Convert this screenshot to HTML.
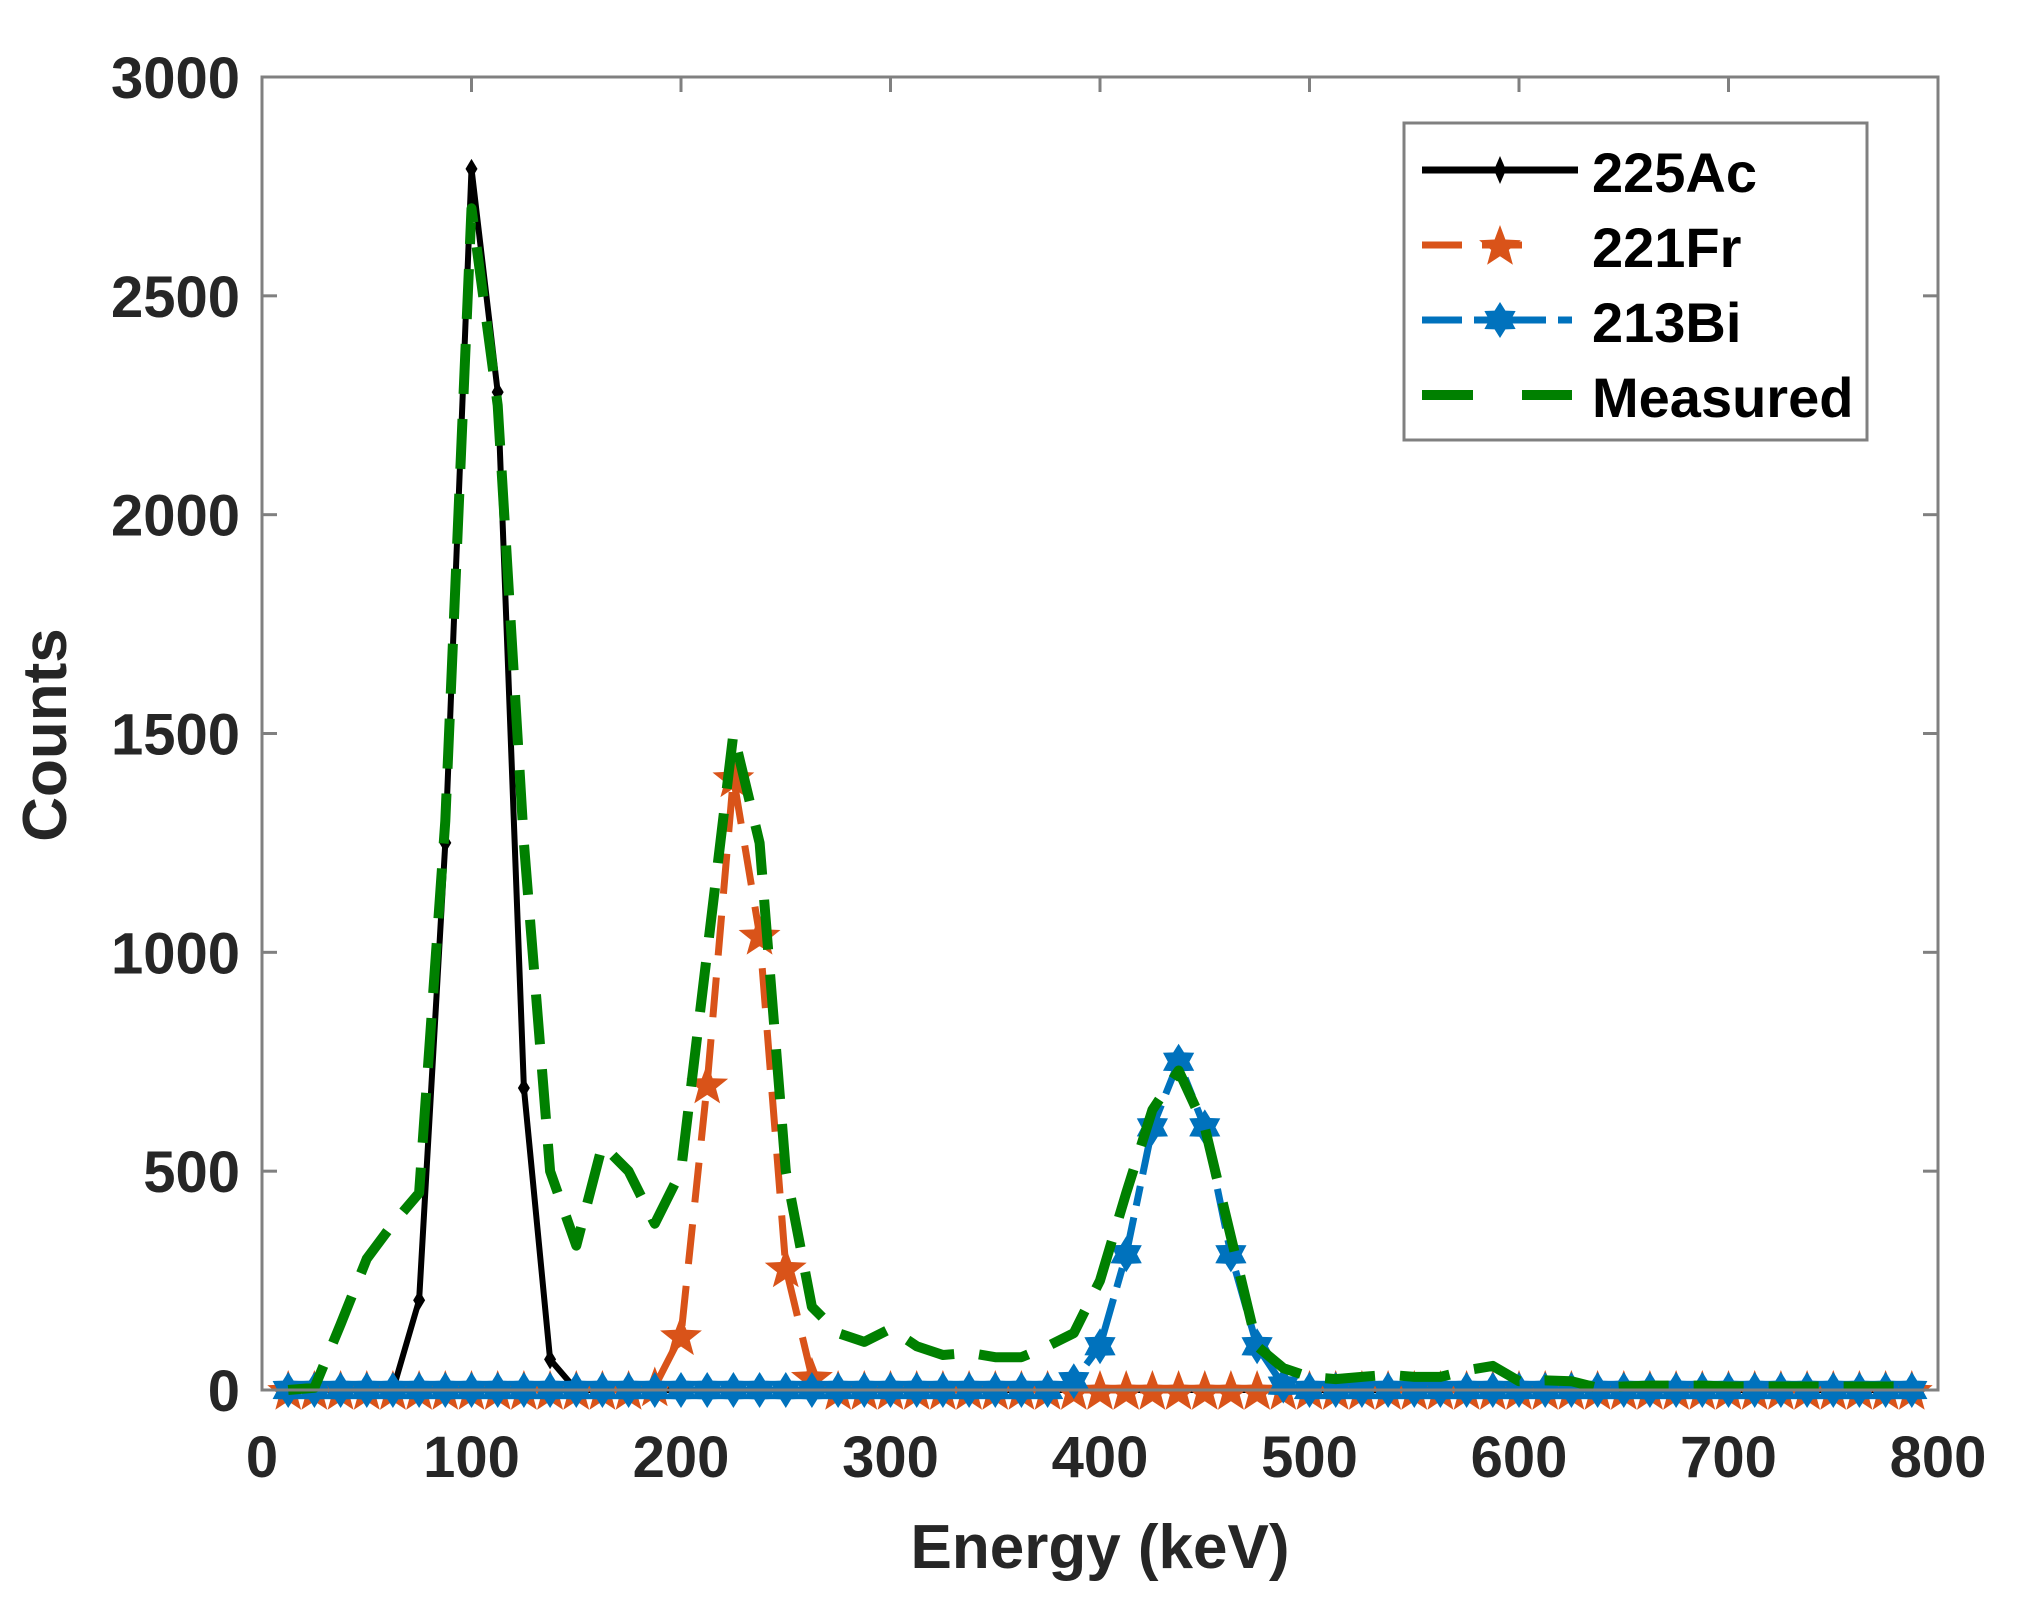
<!DOCTYPE html>
<html><head><meta charset="utf-8">
<style>
html,body{margin:0;padding:0;background:#fff;}
svg{display:block;}
text{font-family:"Liberation Sans",Arial,sans-serif;font-weight:bold;fill:#262626;}
</style></head>
<body>
<svg id="s" width="2017" height="1613" viewBox="0 0 2017 1613" xmlns="http://www.w3.org/2000/svg">
<rect width="2017" height="1613" fill="#fff"/>
<g id="ticks"></g>
<g id="plot"></g>
<rect x="262" y="77" width="1676" height="1313" fill="none" stroke="#808080" stroke-width="3"/>
<g id="labels" font-size="58"></g>
<text x="1100" y="1568" font-size="62" text-anchor="middle">Energy (keV)</text>
<text transform="translate(66,735) rotate(-90)" font-size="62" text-anchor="middle">Counts</text>
<g id="legend">
<rect x="1404" y="123" width="463" height="317" fill="#fff" stroke="#808080" stroke-width="3"/>
<line x1="1422" y1="170" x2="1578" y2="170" stroke="#000" stroke-width="7"/>
<path d="M1500 156 L1506 170 L1500 184 L1494 170Z" fill="#000"/>
<line x1="1422" y1="245" x2="1542" y2="245" stroke="#d95319" stroke-width="7" stroke-dasharray="40,20"/>
<path id="lstar" fill="#d95319"/>
<line x1="1422" y1="320" x2="1572" y2="320" stroke="#0072bd" stroke-width="7" stroke-dasharray="40,12,20,12"/>
<path id="lhex" fill="#0072bd"/>
<line x1="1422" y1="395" x2="1572" y2="395" stroke="#008000" stroke-width="10" stroke-dasharray="51,49"/>
<text x="1592" y="192" font-size="56" style="fill:#000">225Ac</text>
<text x="1592" y="267" font-size="56" style="fill:#000">221Fr</text>
<text x="1592" y="342" font-size="56" style="fill:#000">213Bi</text>
<text x="1592" y="417" font-size="56" style="fill:#000">Measured</text>
</g>
</svg>
<script>
var NS="http://www.w3.org/2000/svg";
function X(e){return 262+e*1676/800;}
function Y(c){return 1390-c*1313/3000;}
function el(p,t,a){var e=document.createElementNS(NS,t);for(var k in a)e.setAttribute(k,a[k]);p.appendChild(e);return e;}
var tk=document.getElementById('ticks'),lb=document.getElementById('labels'),pl=document.getElementById('plot');
for(var i=0;i<=8;i++){var x=X(i*100);
 el(tk,'line',{x1:x,y1:1390,x2:x,y2:1375,stroke:'#808080','stroke-width':3});
 el(tk,'line',{x1:x,y1:77,x2:x,y2:92,stroke:'#808080','stroke-width':3});
 var t=el(lb,'text',{x:x,y:1477,'text-anchor':'middle'});t.textContent=String(i*100);}
for(var j=0;j<=6;j++){var y=Y(j*500);
 el(tk,'line',{x1:262,y1:y,x2:277,y2:y,stroke:'#808080','stroke-width':3});
 el(tk,'line',{x1:1938,y1:y,x2:1923,y2:y,stroke:'#808080','stroke-width':3});
 var t=el(lb,'text',{x:240,y:y+21,'text-anchor':'end'});t.textContent=String(j*500);}
var N=63,E=[];for(var k=1;k<=N;k++)E.push(12.5*k);
function arr(m){return E.map(function(e){return m[e]||0;});}
var ac=arr({62.5:0,75:205,87.5:1250,100:2790,112.5:2280,125:690,137.5:70});
var fr=arr({187.5:8,200:125,212.5:700,225:1400,237.5:1040,250:280,262.5:30});
var bi=arr({387.5:20,400:100,412.5:310,425:600,437.5:750,450:600,462.5:310,475:100,487.5:10});
var ms=arr({12.5:0,25:5,37.5:150,50:300,62.5:380,75:450,87.5:1300,100:2700,112.5:2250,125:1250,137.5:500,150:330,162.5:560,175:500,187.5:380,200:500,212.5:1000,225:1500,237.5:1250,250:500,262.5:190,275:130,287.5:110,300:140,312.5:100,325:80,337.5:85,350:75,362.5:75,375:100,387.5:130,400:250,412.5:450,425:640,437.5:730,450:600,462.5:350,475:100,487.5:50,500:30,512.5:25,525:30,537.5:35,550:30,562.5:30,575:45,587.5:55,600:20,612.5:22,625:20,637.5:5,650:8,662.5:10,675:10,687.5:10,700:8,712.5:8,725:8,737.5:8,750:8,762.5:8,775:8,787.5:8});
function pts(a){return E.map(function(e,i){return X(e).toFixed(1)+','+Y(a[i]).toFixed(1);}).join(' ');}
function star(cx,cy,r,n,inner){var s='';for(var i=0;i<2*n;i++){var rr=i%2?r*inner:r;var a=-Math.PI/2+i*Math.PI/n;s+=(i?'L':'M')+(cx+rr*Math.cos(a)).toFixed(1)+' '+(cy+rr*Math.sin(a)).toFixed(1);}return s+'Z';}
document.getElementById('lstar').setAttribute('d',star(1500,247,22,5,0.42));
document.getElementById('lhex').setAttribute('d',star(1500,320,18,6,0.6));
el(pl,'polyline',{points:pts(ac),fill:'none',stroke:'#000','stroke-width':6,'stroke-linejoin':'round'});
E.forEach(function(e,i){var x=X(e),y=Y(ac[i]);el(pl,'path',{d:'M'+x+' '+(y-10)+'L'+(x+6)+' '+y+'L'+x+' '+(y+10)+'L'+(x-6)+' '+y+'Z',fill:'#000'});});
el(pl,'polyline',{points:pts(fr),fill:'none',stroke:'#d95319','stroke-width':7,'stroke-dasharray':'40,22'});
E.forEach(function(e,i){el(pl,'path',{d:star(X(e),Y(fr[i])+2,22,5,0.42),fill:'#d95319'});});
el(pl,'polyline',{points:pts(bi),fill:'none',stroke:'#0072bd','stroke-width':7,'stroke-dasharray':'40,12,20,12'});
E.forEach(function(e,i){el(pl,'path',{d:star(X(e),Y(bi[i]),18,6,0.6),fill:'#0072bd'});});
el(pl,'polyline',{points:pts(ms),fill:'none',stroke:'#008000','stroke-width':10,'stroke-dasharray':'50,25','stroke-linejoin':'round'});
</script>
</body></html>
